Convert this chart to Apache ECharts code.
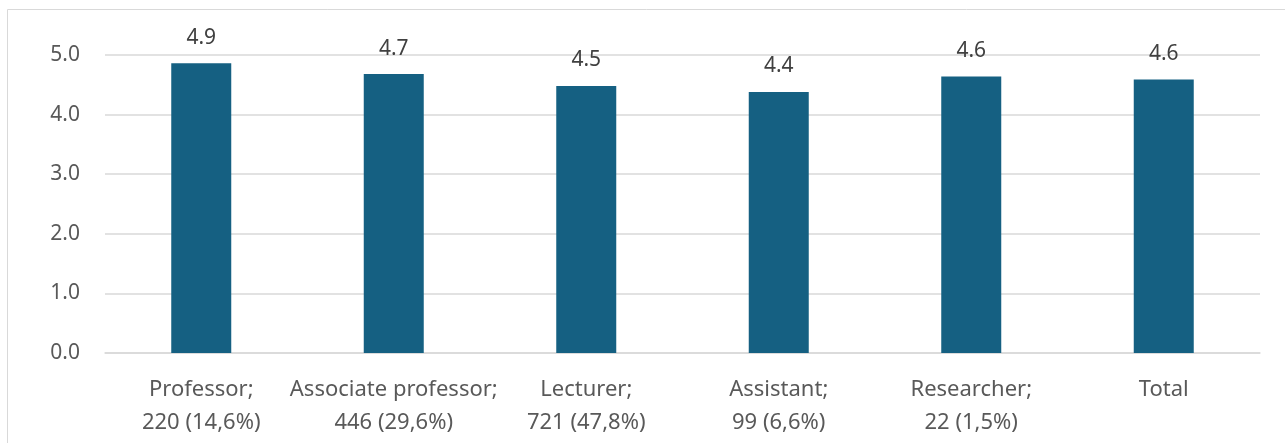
<!DOCTYPE html>
<html>
<head>
<meta charset="utf-8">
<script src="https://cdn.jsdelivr.net/npm/echarts@6/dist/echarts.min.js"></script>
<style>
html,body{margin:0;padding:0;background:#fff;}
#chart{width:1285px;height:443px;}
</style>
</head>
<body>
<div id="chart"></div>
<script>
const categories = ["Professor;\n220 (14,6%)", "Associate professor;\n446 (29,6%)", "Lecturer;\n721 (47,8%)", "Assistant;\n99 (6,6%)", "Researcher;\n22 (1,5%)", "Total"];
const values = [4.86, 4.68, 4.48, 4.38, 4.64, 4.59];
const yTicks = { min: 0, max: 5, interval: 1 };

const chart = echarts.init(document.getElementById('chart'), null, { renderer: 'canvas' });
const font = '"Noto Sans", "Open Sans", sans-serif';
chart.setOption({
  animation: false,
  graphic: [{
    type: 'rect',
    shape: { x: 7.5, y: 9.5, width: 1290, height: 450 },
    style: { fill: 'none', stroke: '#d9d9d9', lineWidth: 1 },
    silent: true
  }],
  grid: { left: 105, right: 25, top: 55, bottom: 90 },
  xAxis: {
    type: 'category',
    data: categories,
    axisLine: { show: true, lineStyle: { color: '#d9d9d9', width: 1.5 } },
    axisTick: { show: false },
    axisLabel: {
      color: '#595959', fontFamily: font, fontSize: 22, lineHeight: 33,
      margin: 20, interval: 0
    }
  },
  yAxis: {
    type: 'value',
    min: yTicks.min, max: yTicks.max, interval: yTicks.interval,
    axisLine: { show: false },
    axisTick: { show: false },
    splitLine: { lineStyle: { color: '#d9d9d9', width: 1.5 } },
    axisLabel: {
      color: '#595959', fontFamily: font, fontSize: 21, margin: 25,
      formatter: v => v.toFixed(1)
    }
  },
  series: [{
    type: 'bar',
    data: values,
    barWidth: 60,
    itemStyle: { color: '#156082' },
    label: {
      show: true, position: 'top', distance: 15,
      color: '#404040', fontFamily: font, fontSize: 21,
      formatter: p => p.value.toFixed(1)
    }
  }]
});
</script>
</body>
</html>
